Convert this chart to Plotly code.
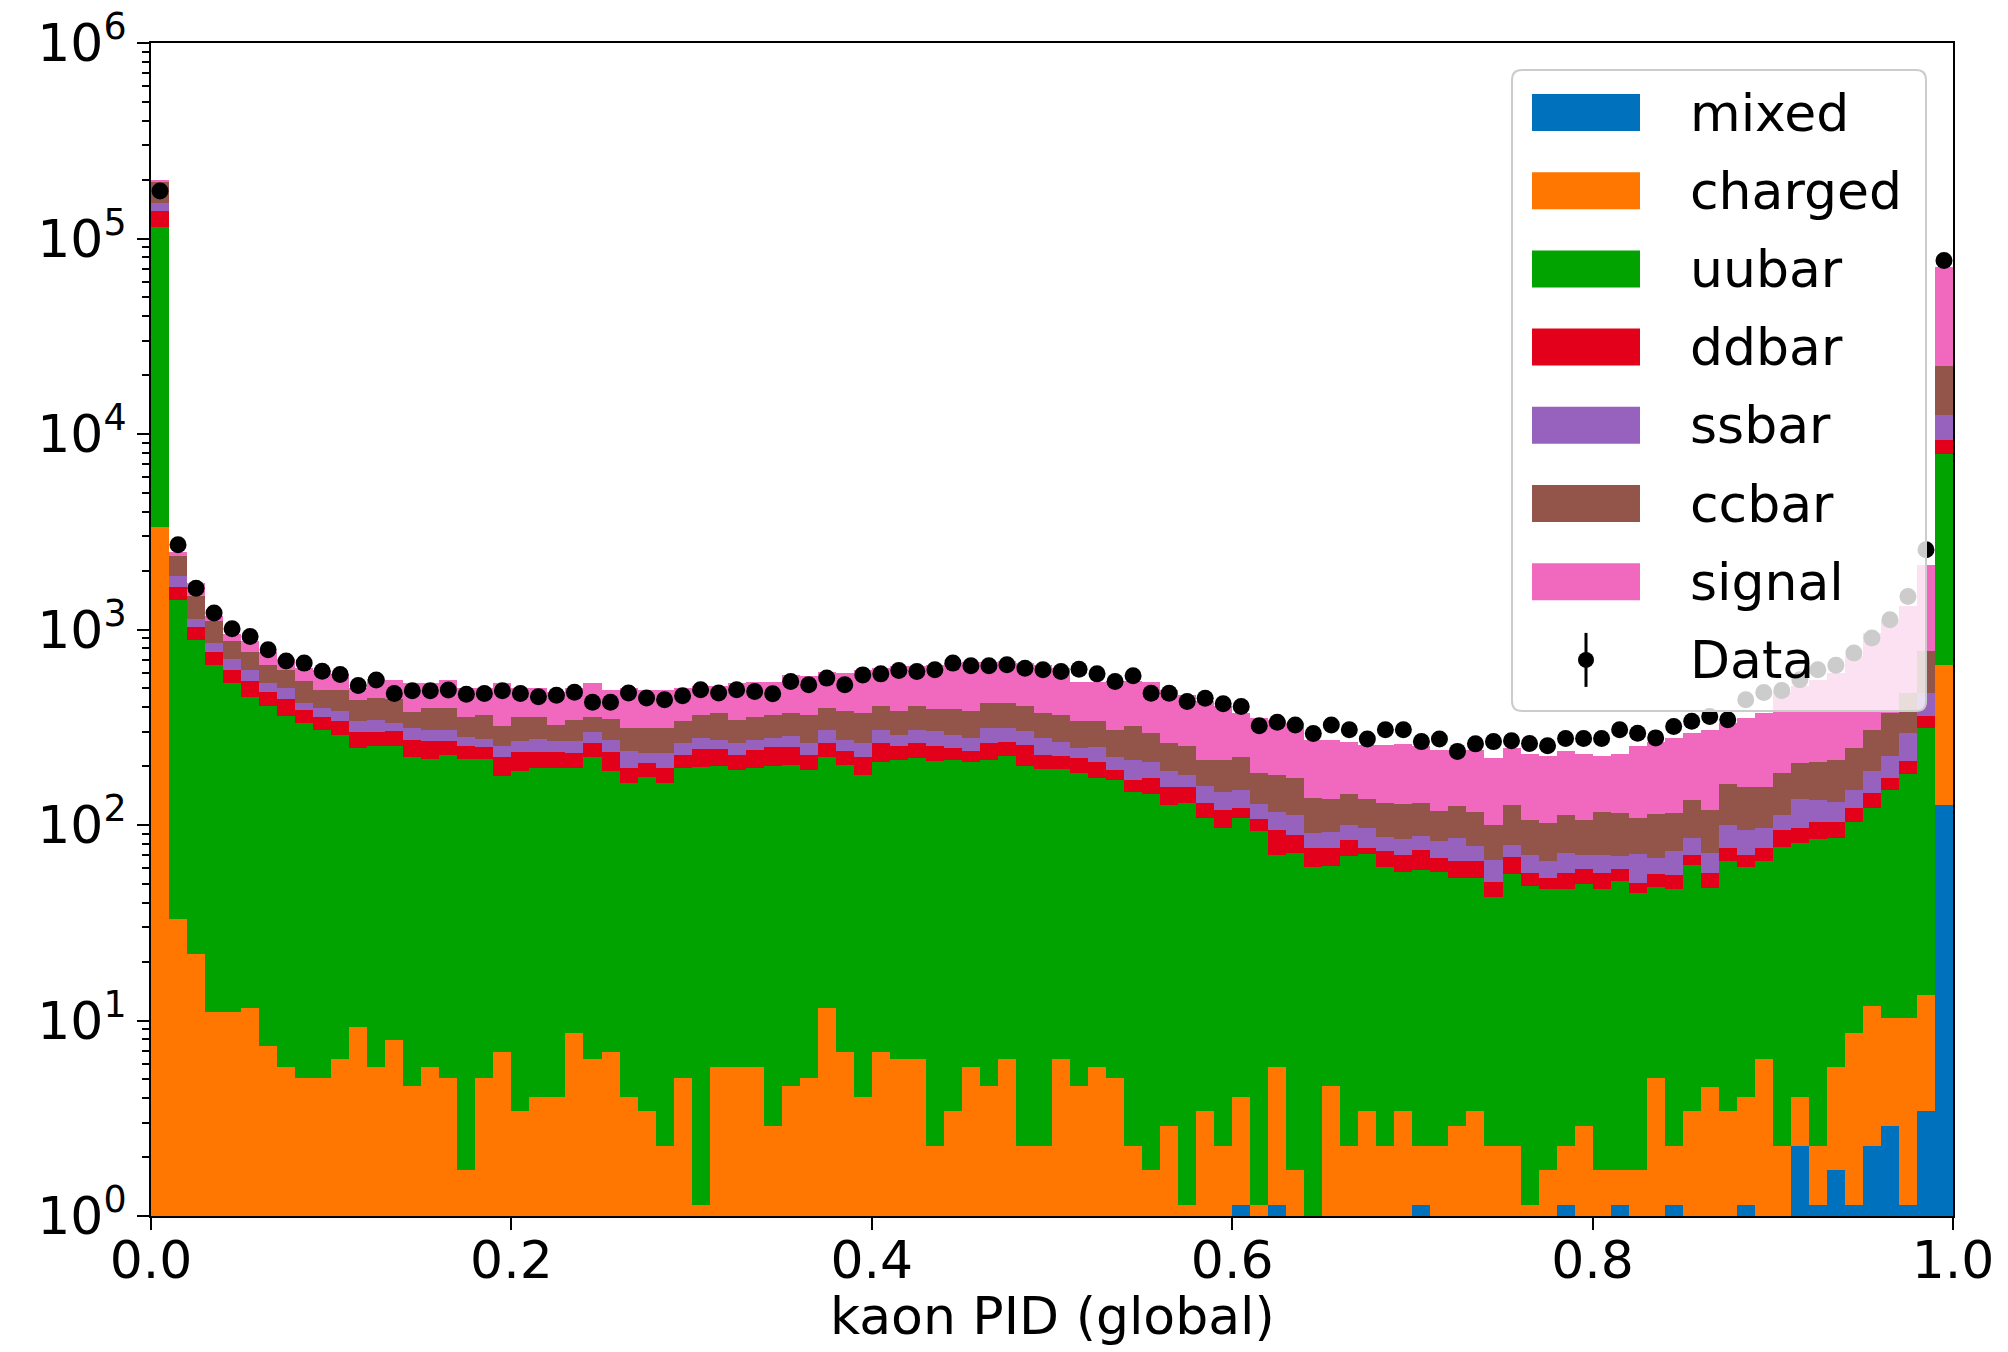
import plotly.graph_objects as go

# ---------------- data ----------------
n_bins = 100
bin_width = 0.01
bin_centers = [round(0.005 + bin_width * i, 3) for i in range(n_bins)]

series_names = ["mixed", "charged", "uubar", "ddbar", "ssbar", "ccbar", "signal"]
series_colors = ["#0072BD", "#FF7700", "#00A300", "#E3001B", "#9762BE", "#93544A", "#F168BF"]

mixed = [0] * 60 + [1.14, 0, 1.14, 0, 0, 0, 0, 0, 0, 0,
                    1.14, 0, 0, 0, 0, 0, 0, 0, 1.14, 0,
                    0, 1.14, 0, 0, 1.14, 0, 0, 0, 1.14, 0,
                    0, 2.28, 1.14, 1.72, 1.14, 2.28, 2.87, 1.14, 3.46, 126]

charged = [3340, 33, 21.9, 11.0, 11.0, 11.6, 7.41, 5.77, 5.07, 5.07,
           6.34, 9.24, 5.77, 7.96, 4.63, 5.77, 5.07, 1.72, 5.07, 6.93,
           3.46, 4.08, 4.08, 8.67, 6.34, 6.93, 4.08, 3.46, 2.28, 5.07,
           1.14, 5.77, 5.77, 5.77, 2.87, 4.63, 5.07, 11.6, 6.93, 4.08,
           6.93, 6.34, 6.34, 2.28, 3.46, 5.77, 4.63, 6.34, 2.28, 2.28,
           6.34, 4.63, 5.77, 5.07, 2.28, 1.72, 2.87, 1.14, 3.46, 2.28,
           2.94, 1.14, 4.63, 1.72, 0, 4.63, 2.28, 3.46, 2.28, 3.46,
           1.14, 2.28, 2.87, 3.46, 2.28, 2.28, 1.14, 1.72, 1.14, 2.87,
           1.72, 0.58, 1.72, 5.07, 1.14, 3.46, 4.59, 3.46, 2.94, 6.34,
           2.28, 1.8, 1.14, 4.05, 7.53, 9.6, 7.4, 9.2, 10.0, 536]

uubar = [110700, 1386, 862, 651, 520, 442, 401, 356, 326, 300,
         284, 239, 248, 245, 218, 211, 224, 215, 212, 172,
         186, 191, 191, 186, 217, 183, 160, 173, 162, 190,
         198, 195, 186, 189, 198, 198, 187, 212, 196, 177,
         204, 209, 214, 209, 211, 205, 210, 218, 199, 190,
         186, 179, 168, 165, 146, 143, 124, 128, 105, 94,
         104, 91.5, 64.6, 70, 61, 57, 67, 68, 59, 54,
         56.6, 55.5, 50.5, 50, 40.7, 54, 47.5, 45.5, 45, 47,
         45.5, 50, 43, 43, 45, 59, 43, 62, 57, 59,
         75, 77, 83, 80, 95, 110, 141, 171, 300, 7210]

ddbar = [24000, 225, 140, 105, 90, 92, 70, 79, 56, 53,
         49, 50, 44, 51, 49, 51, 39, 37, 33, 43,
         47, 42, 40, 40, 38, 45, 31, 30, 31, 33,
         45, 43, 36, 47, 51, 49, 36, 38, 35, 43,
         51, 37, 42, 41, 32, 27, 47, 43, 56, 36,
         32, 36, 37, 22, 22, 29, 30, 28, 21, 23,
         14, 15, 24, 17, 15, 15, 15, 5, 12, 12.6,
         15.7, 10, 11.7, 11.7, 8.4, 12, 8, 6.6, 9.3, 10,
         9.3, 8, 6, 8, 8, 8, 9, 11, 9, 11,
         17, 15, 18, 18, 18, 24, 23, 30, 46, 1440]

ssbar = [14000, 231, 114, 85, 87, 76, 53, 63, 32, 40,
         42, 41, 47, 29, 42, 37, 37, 28, 25, 31,
         31, 38, 33, 33, 37, 37, 43, 26, 38, 34,
         34, 29, 34, 31, 26, 32, 34, 45, 35, 38,
         45, 37, 45, 49, 42, 40, 51, 46, 44, 50,
         43, 27, 41, 32, 45, 37, 31, 24, 28, 29,
         29, 21, 22.5, 24, 15, 15, 16, 20, 14, 15,
         13, 14.6, 20.5, 12.5, 15, 11, 13.5, 12, 15.5, 10,
         13.5, 10, 20, 12, 18, 15, 15, 24, 24, 20,
         18.5, 39, 31, 28, 29, 42, 50, 84, 114, 3250]

ccbar = [42000, 502, 342, 257, 166, 146, 124, 117, 126, 93,
         110, 96, 101, 107, 67, 93, 93, 76, 92, 68,
         90, 83, 57, 75, 60, 76, 75, 80, 80, 77,
         88, 100, 83, 86, 88, 89, 104, 89, 108, 111,
         100, 92, 97, 91, 103, 103, 107, 107, 103, 95,
         99, 92, 87, 83, 104, 86, 74, 71, 58, 67,
         73, 55, 64, 61, 46, 44, 43, 39, 42, 43,
         42, 35, 39, 39, 34, 48, 36, 37, 41, 36,
         46, 45, 38, 46, 42, 49, 48, 61, 63, 61,
         71, 72, 76, 84, 96, 119, 150, 178, 299, 9640]

signal = [6000, 128, 253, 60, 72, 107, 112, 87, 93, 130,
          98, 69, 113, 110, 150, 133, 155, 146, 137, 209,
          146, 146, 153, 161, 173, 143, 188, 179, 179, 162,
          149, 142, 187, 177, 176, 213, 215, 214, 217, 249,
          227, 266, 243, 268, 281, 305, 266, 266, 269, 287,
          268, 203, 203, 235, 223, 245, 230, 211, 213, 189,
          149, 168, 164, 158, 136, 138, 124, 122, 128, 133,
          123, 125, 117, 125, 120, 119, 126, 122, 126, 126,
          109, 117, 144, 153, 164, 160, 187, 171, 195, 217,
          298, 305, 342, 382, 481, 652, 748, 839, 1375, 49500]

data_counts = [175000, 2710, 1627, 1213, 1008, 922, 787, 690, 673, 611,
               589, 517, 551, 470, 486, 486, 491, 466, 470, 486,
               470, 453, 461, 478, 424, 424, 473, 446, 437, 458,
               492, 473, 492, 482, 469, 542, 521, 564, 521, 586,
               593, 617, 610, 622, 673, 652, 652, 660, 634, 622,
               610, 626, 593, 542, 580, 472, 472, 428, 445, 417,
               404, 322, 335, 325, 294, 325, 307, 275, 307, 307,
               267, 275, 238, 260, 267, 270, 261, 254, 277, 277,
               277, 307, 295, 279, 319, 339, 359, 345, 437, 476,
               488, 553, 623, 656, 758, 904, 1122, 1477, 2560, 77100]

x_tick_vals = [0.0, 0.2, 0.4, 0.6, 0.8, 1.0]
x_tick_text = ["0.0", "0.2", "0.4", "0.6", "0.8", "1.0"]
y_decades = [0, 1, 2, 3, 4, 5, 6]
x_label = "kaon PID (global)"

# ---------------- figure ----------------
# the page body has an 8px default margin, so the figure is offset by 8px
OFF = 8
W, H = 2008 - OFF, 1352 - OFF
# plot-area edges in page pixels
L, R, T, B = 151, 1953, 43, 1216
FONT = "DejaVu Sans"
FS = 52

fig = go.Figure()
all_series = [mixed, charged, uubar, ddbar, ssbar, ccbar, signal]
for name, color, vals in zip(series_names, series_colors, all_series):
    fig.add_trace(go.Bar(
        x=bin_centers, y=vals, width=bin_width, name=name,
        marker=dict(color=color, line=dict(width=0)),
        showlegend=False,
    ))

fig.add_trace(go.Scatter(
    x=bin_centers, y=data_counts, mode="markers", name="Data",
    marker=dict(color="black", size=17), showlegend=False,
))

y_tick_vals = [10 ** d for d in y_decades]
y_tick_text = ["10<sup>%d</sup>" % d for d in y_decades]
minor_vals = [k * 10 ** d for d in y_decades[:-1] for k in range(2, 10)]

fig.update_layout(
    width=W, height=H,
    margin=dict(l=L - OFF, r=(W + OFF) - R, t=T - OFF, b=(H + OFF) - B,
                autoexpand=False),
    barmode="stack", bargap=0,
    plot_bgcolor="white", paper_bgcolor="white",
    showlegend=False,
    font=dict(family=FONT, size=FS, color="black"),
)
fig.update_xaxes(
    range=[0, 1], tickvals=x_tick_vals, ticktext=x_tick_text,
    ticks="outside", ticklen=12, tickwidth=2, tickcolor="black",
    showline=True, mirror=True, linecolor="black", linewidth=2,
    showgrid=False, zeroline=False, automargin=False,
    tickfont=dict(family=FONT, size=FS), ticklabelstandoff=-14,
    ticklabeloverflow="allow",
)
fig.update_yaxes(
    type="log", range=[0, 6], tickvals=y_tick_vals, ticktext=y_tick_text,
    ticks="outside", ticklen=12, tickwidth=2, tickcolor="black",
    showline=True, mirror=True, linecolor="black", linewidth=2,
    showgrid=False, zeroline=False, automargin=False,
    tickfont=dict(family=FONT, size=FS), ticklabeloverflow="allow",
    minor=dict(tickvals=minor_vals, ticks="outside", ticklen=7,
               tickwidth=1.5, tickcolor="black", showgrid=False),
)

# ---------------- custom legend (matplotlib style) ----------------
def px_x(px):
    return (px - L) / (R - L)

def px_y(py):
    return (B - py) / (B - T)

box_x0, box_x1, box_y0, box_y1 = 1512, 1926, 70, 711
rad = 10
rx, ry = rad / (R - L), rad / (B - T)
X0, X1 = px_x(box_x0), px_x(box_x1)
Ytop, Ybot = px_y(box_y0), px_y(box_y1)
path = (f"M {X0+rx},{Ytop} L {X1-rx},{Ytop} Q {X1},{Ytop} {X1},{Ytop-ry} "
        f"L {X1},{Ybot+ry} Q {X1},{Ybot} {X1-rx},{Ybot} "
        f"L {X0+rx},{Ybot} Q {X0},{Ybot} {X0},{Ybot+ry} "
        f"L {X0},{Ytop-ry} Q {X0},{Ytop} {X0+rx},{Ytop} Z")
shapes = [dict(type="path", path=path, xref="paper", yref="paper",
               fillcolor="rgba(255,255,255,0.8)",
               line=dict(color="rgba(204,204,204,1)", width=2), layer="above")]
annotations = []
row0, row_step = 112.5, 78.2
patch_x0, patch_x1, patch_h = 1532, 1640, 37
text_x = 1688
for i, (name, color) in enumerate(zip(series_names, series_colors)):
    cy = row0 + i * row_step
    shapes.append(dict(type="rect", xref="paper", yref="paper",
                       x0=px_x(patch_x0), x1=px_x(patch_x1),
                       y0=px_y(cy + patch_h / 2), y1=px_y(cy - patch_h / 2),
                       fillcolor=color, line=dict(width=0), layer="above"))
    annotations.append(dict(text=name, xref="paper", yref="paper",
                            x=px_x(text_x), y=px_y(cy), xanchor="left",
                            yanchor="middle", showarrow=False,
                            font=dict(family=FONT, size=FS, color="black")))
cy = row0 + 7 * row_step
mx = (patch_x0 + patch_x1) / 2
shapes.append(dict(type="line", xref="paper", yref="paper",
                   x0=px_x(mx), x1=px_x(mx), y0=px_y(cy - 27), y1=px_y(cy + 27),
                   line=dict(color="black", width=3), layer="above"))
shapes.append(dict(type="circle", xref="paper", yref="paper",
                   x0=px_x(mx - 8), x1=px_x(mx + 8), y0=px_y(cy + 8), y1=px_y(cy - 8),
                   fillcolor="black", line=dict(width=0), layer="above"))
annotations.append(dict(text="Data", xref="paper", yref="paper",
                        x=px_x(text_x), y=px_y(cy), xanchor="left",
                        yanchor="middle", showarrow=False,
                        font=dict(family=FONT, size=FS, color="black")))

# x-axis label, placed where the reference draws it
annotations.append(dict(text=x_label, xref="paper", yref="paper",
                        x=0.5, y=px_y(1316), xanchor="center", yanchor="middle",
                        showarrow=False,
                        font=dict(family=FONT, size=FS, color="black")))

fig.update_layout(shapes=shapes, annotations=annotations)
fig.write_html("out.html")
